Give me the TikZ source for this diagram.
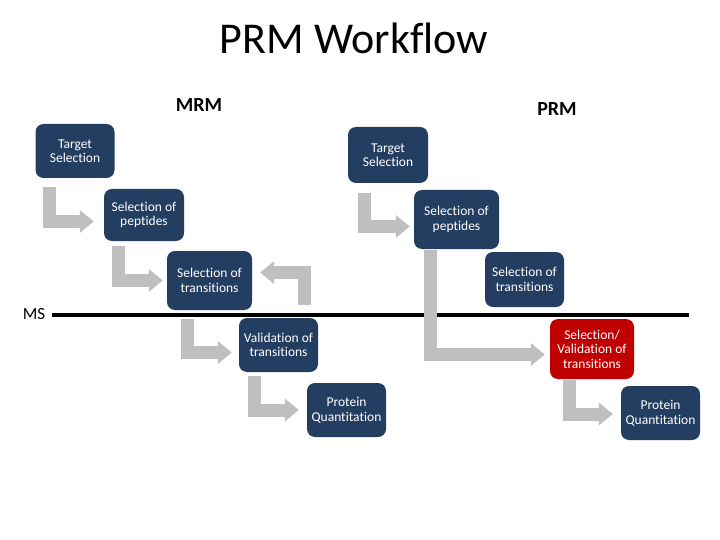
\documentclass[tikz,border=0pt]{standalone}
\usepackage{fontspec}
\setmainfont{Carlito}[Ligatures=CommonOff]
\usetikzlibrary{arrows.meta}
\definecolor{navy}{RGB}{35,62,97}
\definecolor{darkred}{RGB}{192,0,0}
\definecolor{lgrey}{RGB}{191,191,191}
\begin{document}
\begin{tikzpicture}[x=1pt,y=-1pt,
  box/.style={rounded corners=8pt, fill=navy, text=white, align=center,
    inner sep=0pt, minimum width=80pt, minimum height=54pt,
    font=\fontsize{13.5}{14.5}\selectfont},
  redbox/.style={box, fill=darkred},
  garrow/.style={draw=lgrey, line width=13pt, line join=miter,
    -{Triangle[length=14pt,width=22pt]}},
  hdr/.style={font=\fontsize{20}{24}\selectfont\bfseries}
]
\path[use as bounding box] (0,0) rectangle (720,540);

\node[font=\fontsize{44}{52}\selectfont] (title) at (354,38) {PRM Workflow};
\node[hdr] (mrm) at (199,105) {MRM};
\node[hdr] (prm) at (557,109) {PRM};

% MRM column
\node[box, minimum width=79pt] (T1) at (75,151) {Target\\Selection};
\node[box, minimum height=52pt] (P1) at (144,215) {Selection of\\peptides};
\node[box, minimum width=85pt, minimum height=59pt] (Tr1) at (209.5,280.5) {Selection of\\transitions};
\node[box, minimum width=79pt] (V1) at (278.5,345) {Validation of\\transitions};
\node[box, minimum width=79pt] (Q1) at (346.5,410) {Protein\\Quantitation};

% PRM column
\node[box, minimum height=56pt] (T2) at (388,155) {Target\\Selection};
\node[box, minimum width=85pt, minimum height=59pt] (P2) at (456.5,219.5) {Selection of\\peptides};
\node[box, minimum width=79pt, minimum height=55pt] (Tr2) at (524.5,279.5) {Selection of\\transitions};
\node[redbox, minimum width=84pt, minimum height=60pt] (SV) at (592,349) {Selection/\\Validation of\\transitions};
\node[box, minimum width=79pt] (Q2) at (660.5,413) {Protein\\Quantitation};

% MS line
\node[font=\fontsize{17}{20}\selectfont, inner sep=0pt] (ms) at (34,314) {MS};
\coordinate (msend) at (689,314.5);
\draw[line width=4pt] (ms.east |- msend) ++(7,0) -- (msend);

% MRM arrows
\draw[garrow] (T1.south west) ++(14.5,9) |- ([shift={(-10,6.5)}]P1.west);
\draw[garrow] (P1.south west) ++(15,5) |- ([shift={(-4,0)}]Tr1.west);
\draw[garrow] (Tr1.south east) ++(52,-5) |- ([shift={(8,-8)}]Tr1.east);
\draw[garrow] (Tr1.south west) ++(21,9) |- ([shift={(-7,7.5)}]V1.west);
\draw[garrow] (V1.south west) ++(15.5,4) |- ([shift={(-8,0)}]Q1.west);

% PRM arrows
\draw[garrow] (T2.south west) ++(16.5,10) |- ([shift={(-4,7)}]P2.west);
\draw[garrow] (P2.south west) ++(16.5,1) |- ([shift={(-5,5.5)}]SV.west);
\draw[garrow] (SV.south west) ++(19.5,1) |- ([shift={(-8,1)}]Q2.west);
\end{tikzpicture}
\end{document}
